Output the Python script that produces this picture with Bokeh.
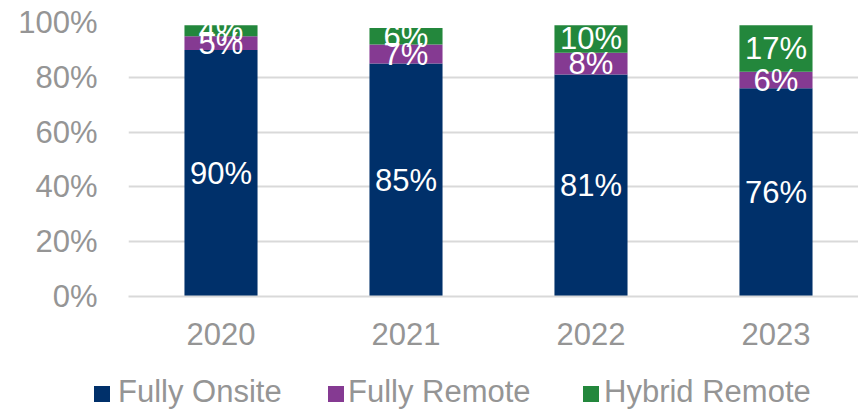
from bokeh.plotting import figure
from bokeh.layouts import column
from bokeh.models import Range1d, FixedTicker, PrintfTickFormatter, ColumnDataSource, Div
from bokeh.core.properties import value
from bokeh.embed import file_html
from bokeh.resources import INLINE

years = ["2020", "2021", "2022", "2023"]
fully_onsite = [90, 85, 81, 76]
fully_remote = [5, 7, 8, 6]
hybrid_remote = [4, 6, 10, 17]
series_names = ["Fully Onsite", "Fully Remote", "Hybrid Remote"]
colors = ["#00306A", "#853A92", "#23873C"]
y_ticks = [0, 20, 40, 60, 80, 100]

FONT = "Liberation Sans"
FS = "31px"
GRAY = "#959595"
xs = list(range(len(years)))

p = figure(frame_width=730, frame_height=274, output_backend="svg", toolbar_location=None,
           x_range=Range1d(-0.5, 3.446), y_range=Range1d(0, 100),
           min_border_left=128, min_border_right=0, min_border_top=22, min_border_bottom=59)
p.outline_line_color = None
p.background_fill_color = None
p.border_fill_color = "white"

src = ColumnDataSource(dict(x=xs, onsite=fully_onsite, remote=fully_remote, hybrid=hybrid_remote))
rs = p.vbar_stack(["onsite", "remote", "hybrid"], x="x", width=0.395, source=src,
                  color=colors, line_color=None)

# data labels centered in each segment
lx, ly, lt = [], [], []
for i in range(len(years)):
    base = 0
    for vals in (fully_onsite, fully_remote, hybrid_remote):
        v = vals[i]
        lx.append(xs[i]); ly.append(base + v / 2); lt.append(f"{v}%")
        base += v
p.text(x=lx, y=ly, text=lt, text_color="white", text_font=value(FONT),
       text_font_size=FS, text_align="center", text_baseline="middle")

p.xaxis.ticker = FixedTicker(ticks=xs)
p.xaxis.major_label_overrides = {i: y for i, y in zip(xs, years)}
p.xaxis.axis_line_color = "#D9D9D9"
p.xaxis.axis_line_width = 2
p.xaxis.major_tick_line_color = None
p.xaxis.minor_tick_line_color = None
p.xaxis.major_label_text_font = FONT
p.xaxis.major_label_text_font_size = FS
p.xaxis.major_label_text_color = GRAY
p.xaxis.major_label_standoff = 20

p.yaxis.ticker = FixedTicker(ticks=y_ticks)
p.yaxis.formatter = PrintfTickFormatter(format="%d%%")
p.yaxis.axis_line_color = None
p.yaxis.major_tick_line_color = None
p.yaxis.minor_tick_line_color = None
p.yaxis.major_label_text_font = FONT
p.yaxis.major_label_text_font_size = FS
p.yaxis.major_label_text_color = GRAY
p.yaxis.major_label_standoff = 25

p.xgrid.grid_line_color = None
p.ygrid.ticker = FixedTicker(ticks=y_ticks)
p.ygrid.grid_line_color = "#D9D9D9"
p.ygrid.grid_line_width = 2

# legend strip below the chart (HTML, real text)
swatch_left = [94, 328, 583]
label_left = [118, 348, 604]
parts = []
for n, c, sx, tx in zip(series_names, colors, swatch_left, label_left):
    parts.append(f'<div style="position:absolute;left:{sx}px;top:31px;width:16px;height:16px;background:{c};"></div>')
    parts.append(f'<span style="position:absolute;left:{tx}px;top:19px;line-height:36px;white-space:nowrap;">{n}</span>')
html = ('<div style="position:relative;width:858px;height:54px;margin:0;padding:0;'
        f"font-family:'{FONT}',Arial,sans-serif;font-size:{FS};color:{GRAY};\">"
        + "".join(parts) + "</div>")
legend_div = Div(text=html, width=858, height=54, margin=0)

layout = column(p, legend_div, spacing=0)
open("out.html", "w").write(file_html(layout, INLINE))
